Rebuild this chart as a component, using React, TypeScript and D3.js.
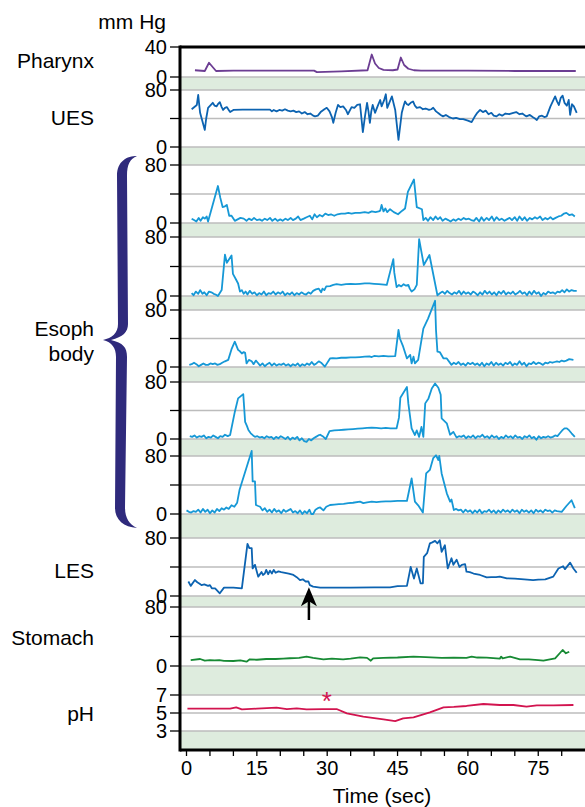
import React from "react";
import * as d3 from "d3";

type Pt = [number, number];

// time (sec), pressure (mm Hg)
const pharynx: Pt[] = [[1.8,9],[3.9,8],[4.8,19],[6.3,8],[10,8.5],[20,8.5],[27.2,8.5],[27.8,6.5],[33,7.5],[38.6,9],[39.5,30],[40.2,18],[41,12],[42,9.5],[44,9],[45,10],[45.7,26],[46.4,16],[47.3,11],[48.5,9],[50,8.5],[60,8.5],[70,8],[83,8]];

const ues: Pt[] = [[1.1,53],[2.2,59],[2.5,73],[2.7,60],[2.9,48],[3.9,24],[4.2,40],[4.6,55],[5.6,62],[6.0,58],[6.4,57],[6.8,61],[7.1,63],[7.5,56],[7.8,52],[8.2,55],[8.6,56],[9.0,52],[9.3,49],[10.0,52],[12,52.5],[14,52.5],[17.8,52.5],[18.2,50],[18.6,52],[19.2,50],[19.8,52],[20.4,51],[21,53],[21.6,51],[22.2,50],[22.8,51],[23.4,49],[24,50],[24.6,47],[25.2,49],[25.8,46],[26.4,47],[27,44],[27.4,43],[28,44],[28.6,49],[29.4,53],[29.9,55],[30.5,50],[31,42],[31.3,34],[31.8,48],[32.3,59],[32.8,56],[33.4,57],[34,52],[34.4,46],[35.2,56],[35.8,55],[36.4,59],[37,60],[37.6,21],[38.1,45],[38.5,62],[38.8,50],[39.1,34],[39.4,50],[39.7,59],[40.2,48],[40.8,58],[41.3,66],[41.6,57],[42.1,65],[42.5,74],[42.8,55],[43.3,63],[43.8,71],[44.2,60],[44.5,52],[45.2,10],[45.9,48],[46.3,58],[46.6,64],[47.0,60],[47.3,59],[47.8,62],[48.3,64],[48.7,58],[49.1,55],[49.8,56],[50.4,53],[51,54],[51.7,52],[52.2,53],[52.6,55],[53.2,50],[53.8,47],[54.2,45],[54.7,43],[55.3,45],[56,42],[56.8,40],[57.5,41],[58.3,39],[59,39],[60,37],[60.8,35],[61.4,42],[62,48],[62.6,52],[63.2,49],[63.8,51],[64.4,46],[65,48],[65.5,44],[66.1,43],[66.7,46],[67.3,44],[68,47],[68.8,46],[69.7,48],[70.3,49],[71,46],[71.6,47],[72.2,44],[72.5,43],[73.2,45],[73.8,42],[74.3,40],[74.7,38],[75.2,43],[75.8,44],[76.3,42],[76.8,43],[77.6,57],[78.6,71],[79,64],[79.4,59],[79.8,69],[80.2,72],[80.6,62],[81.1,58],[81.5,66],[81.8,45],[82.2,60],[82.6,57],[83.2,48]];

const esoph1: Pt[] = [[1.1,6],[1.6,4],[2.1,2],[2.6,7],[3.0,3],[3.5,8],[3.9,6],[4.3,9],[4.6,2],[6.7,51],[7.2,35],[7.7,22],[8.2,23],[8.6,25],[9.1,10],[9.6,10],[10.3,3],[10.9,5],[11.5,7],[12.2,6],[12.8,3],[13.3,6],[13.9,4],[14.4,7],[15,4],[15.6,5],[16.1,3],[16.7,6],[17.2,4],[17.8,7],[18.3,3],[18.9,6],[19.4,3],[20,5],[20.5,3],[21.1,6],[21.6,4],[22.2,7],[22.7,4],[23.3,6],[23.8,9],[24.3,4],[25,6],[25.6,8],[26.3,10],[26.8,5],[27.3,12],[27.8,8],[28.4,11],[29,9],[29.6,13],[30.2,11],[30.8,12],[31.5,10],[32.2,12],[33,13],[33.8,13],[34.5,14],[35.2,13],[36,14],[37,14],[38,15],[38.8,14],[39.5,16],[40.3,15],[41,16],[41.3,17],[41.6,25],[42,16],[42.4,20],[42.8,15],[43.4,19],[44.2,15],[45.1,12],[46,17],[46.6,20],[47.2,43],[48.5,60],[49.1,22],[50.2,19],[50.5,4],[51,7],[51.5,3],[52,8],[52.6,4],[53.1,9],[53.6,5],[54.1,8],[54.6,3],[55.2,6],[55.8,4],[56.3,2],[56.9,5],[57.4,3],[58,6],[58.5,4],[59.1,7],[59.6,5],[60.2,6],[60.7,4],[61.3,3],[61.8,7],[62.4,2],[62.9,8],[63.4,3],[64,7],[64.5,4],[65.1,9],[65.6,3],[66.1,8],[66.7,4],[67.2,6],[67.8,3],[68.3,5],[68.9,7],[69.4,4],[70,8],[70.5,3],[71,9],[71.6,4],[72.1,8],[72.6,3],[73.2,7],[73.7,5],[74.3,8],[74.8,6],[75.4,9],[75.9,4],[76.5,7],[77,5],[77.6,8],[78.1,5],[78.7,7],[79.3,9],[79.9,10],[80.5,13],[81,14],[81.6,11],[82.2,12],[82.8,9]];

const esoph2: Pt[] = [[1.1,4],[1.5,1],[2,6],[2.5,3],[2.9,8],[3.4,3],[3.8,5],[4.3,1],[4.8,6],[5.3,5],[5.8,3],[6.2,2],[6.7,0],[7.5,8],[8.2,56],[8.6,45],[9.6,55],[9.9,30],[10.5,23],[11,17],[11.4,6],[11.8,8],[12.2,3],[12.6,6],[13,2],[13.5,7],[14,3],[14.5,5],[15,1],[15.5,4],[16,2],[16.5,6],[17,1],[17.5,4],[18,3],[18.5,6],[19,2],[19.5,5],[20,3],[20.5,6],[21,1],[21.5,4],[22,2],[22.5,5],[23,1],[23.5,4],[24,2],[24.5,5],[25,3],[25.5,2],[26,5],[26.5,3],[27,7],[27.6,9],[28.2,10],[28.7,5],[29,10],[29.4,8],[29.8,13],[30.6,13.5],[31.3,15],[32,16],[33,15],[34,16],[35,16.5],[36,16],[37,16.5],[38,17],[39,17],[40,16.5],[41,16],[42.7,15],[44.1,50],[44.3,32],[44.5,24],[44.8,12],[45.3,15],[45.8,13],[46.3,16],[46.8,14],[47.3,15],[47.6,10],[48,6],[48.6,9],[49.1,15],[49.6,77],[50.6,42],[51.8,55.6],[53.5,1],[54.1,4],[54.6,6],[55.1,3],[55.6,7],[56.1,4],[56.6,2],[57.1,5],[57.6,3],[58.1,7],[58.6,2],[59.1,6],[59.6,3],[60.1,5],[60.6,2],[61.1,6],[61.6,4],[62.1,1],[62.6,5],[63.1,2],[63.6,7],[64.1,3],[64.6,6],[65.1,2],[65.6,5],[66.1,1],[66.6,6],[67.1,3],[67.6,7],[68.1,2],[68.6,5],[69.1,3],[69.6,6],[70.1,2],[70.6,4],[71.1,7],[71.6,3],[72.1,5],[72.6,1],[73.1,6],[73.6,2],[74.1,7],[74.6,3],[75.1,5],[75.6,0],[76.1,4],[76.6,2],[77.1,6],[77.6,4],[78.1,5],[78.6,3],[79.1,6],[79.6,5],[80.1,8],[80.6,5],[81.1,9],[81.6,6],[82.1,8],[82.6,7],[83.2,7]];

const esoph3: Pt[] = [[0.6,3],[1.1,4],[1.6,6],[2.1,4],[2.6,1],[3.1,3],[3.6,5],[4.1,3],[4.6,3],[5.1,5],[5.6,4],[6.1,5],[6.6,3],[7.1,4],[7.6,6],[8.2,8],[8.9,10],[9.6,25],[10.3,35.5],[11,24],[11.4,22],[11.8,19],[12.2,21],[12.5,20],[12.8,5],[13.3,10],[13.9,8],[14.3,4],[14.8,9],[15.2,6],[15.7,2],[16.2,5],[16.7,1],[17.2,4],[17.7,6],[18.2,2],[18.7,5],[19.2,2],[19.7,4],[20.2,3],[20.7,5],[21.2,2],[21.7,4],[22.2,1],[22.7,4],[23.2,2],[23.7,5],[24.2,1],[24.7,4],[25.2,2],[25.7,5],[26.2,3],[26.7,7],[27.2,3],[27.7,5],[28.2,8],[28.7,6],[29.5,0.5],[30.6,12],[31.2,12.5],[32,12],[33,13],[34,13],[35,13.5],[36,13.5],[37,14],[38,14.5],[39,15],[39.5,14],[40,15.5],[41,15],[42,15.5],[43,15],[44.5,15.4],[45.2,52],[45.5,40],[46.2,28.5],[47,12],[47.7,17],[48,5],[48.4,14.5],[48.7,5],[49.4,10],[50.5,54],[51.5,68],[53,93],[53.2,52],[53.5,21.5],[54,21],[54.8,12],[55.5,12],[56.5,3],[57,6],[57.5,4],[58,7],[58.5,3],[59,5],[59.5,2],[60,6],[60.5,4],[61,6],[61.5,3],[62,5],[62.5,2],[63,6],[63.5,1],[64,5],[64.5,3],[65,7],[65.5,2],[66,6],[66.5,3],[67,5],[67.5,2],[68,6],[68.5,4],[69,7],[69.5,2],[70,5],[70.5,3],[71,8],[71.5,3],[72,6],[72.5,1],[73,5],[73.5,4],[74,7],[74.5,4],[75,6],[75.5,5],[76,3],[76.5,6],[77,5],[77.5,7],[78,6],[78.5,7],[79,8],[79.5,7],[80,9],[80.5,8],[81,9],[81.6,11],[82.5,10]];

const esoph4: Pt[] = [[0.7,4],[1.2,3],[1.7,5],[2.2,2],[2.7,4],[3.2,3],[3.7,5],[4.2,1],[4.7,3],[5.2,2],[5.7,5],[6.2,3],[6.7,1],[7.2,4],[7.7,3],[8.2,6],[8.8,4],[9.3,5.6],[10.3,38],[11,57],[12.1,63],[12.5,24],[12.9,18],[13.2,12.6],[13.7,8],[14.2,5],[14.6,3],[15.1,4],[15.6,2],[16.1,3],[16.6,1],[17.1,4],[17.6,2],[18.1,3],[18.6,0],[19.1,3],[19.6,1],[20.1,4],[20.6,2],[21.1,0],[21.6,3],[22.1,-1],[22.6,2],[23.1,0],[23.6,3],[24.1,-2],[24.6,1],[25.1,-3],[25.6,-4],[26.1,0],[26.6,-2],[27.1,1],[27.6,3],[28.1,5],[28.5,6],[29.2,3],[29.7,0],[30.5,11],[31.5,12],[32.5,12.5],[33.5,13],[34.5,13.5],[35.5,14],[36.5,14.5],[37.5,15],[38.5,15.5],[39.5,16],[40.5,15.5],[41.5,15],[42.5,15.5],[43.5,15],[44.8,15],[45.3,30],[45.6,58],[47,73],[47.3,50],[48,15],[48.7,5.6],[49.1,12],[49.6,3],[50.1,17],[50.5,3],[50.9,50],[51.6,57],[52.3,71],[53,78],[53.7,72],[54.2,62],[54.4,29],[55.5,22],[56.2,6],[56.9,10],[57.6,2],[58.1,4],[58.6,3],[59.1,5],[59.6,1],[60.1,4],[60.6,2],[61.1,5],[61.6,1],[62.1,4],[62.6,3],[63.1,6],[63.6,2],[64.1,4],[64.6,1],[65.1,5],[65.6,2],[66.1,4],[66.6,0],[67.1,3],[67.6,1],[68.1,5],[68.6,2],[69.1,4],[69.6,1],[70.1,5],[70.6,2],[71.1,3],[71.6,0],[72.1,4],[72.6,2],[73.1,5],[73.6,1],[74.1,3],[74.6,-1],[75.1,4],[75.6,1],[76.1,3],[76.6,2],[77.1,4],[77.6,2],[78.1,3],[78.6,5],[79.1,4],[79.6,8],[80.1,12],[80.6,15],[81.1,15],[81.6,12],[82.1,8],[82.8,3]];

const esoph5: Pt[] = [[0,5],[0.5,3],[1,2],[1.5,4],[2,3],[2.5,6],[3,2],[3.5,7],[4,3],[4.5,6],[5,1],[5.5,5],[6,2],[6.5,7],[7,4],[7.5,8],[8,6],[8.5,9],[9,7],[9.6,12],[10.2,10],[10.8,15.6],[11.3,33],[13.9,87],[14.1,45],[14.6,45],[14.8,12.4],[15.3,11],[15.7,10],[16.2,5],[16.7,8],[17.2,3],[17.7,6],[18.2,2],[18.7,7],[19.2,3],[19.7,5],[20.2,1],[20.7,6],[21.2,3],[21.7,5],[22.2,7],[22.7,2],[23.2,4],[23.7,1],[24.2,5],[24.7,0],[25.2,4],[25.7,1],[26.2,6],[26.6,0],[27,0],[27.5,6],[28,8],[28.5,9],[29.2,5],[29.8,10],[30.6,12.4],[31.5,13],[32.5,13.5],[33.5,14],[34.5,15],[35.5,15.5],[37,17],[37.7,15],[38.5,16],[39.5,17],[40.5,16.5],[41.5,17],[42.5,17.5],[43.5,17.5],[45,18],[47,18],[48,49],[48.7,17],[49.4,12],[50.4,2],[51.1,56],[51.9,61],[52.6,77],[53.2,81],[53.7,74.5],[53.9,80],[54.4,56],[55.5,28.5],[56.2,17],[56.5,20],[57,5.5],[57.5,7],[58,5],[58.5,6],[59,2],[59.5,6],[60,3],[60.5,5],[61,1],[61.5,5],[62,2],[62.5,6],[63,1],[63.5,4],[64,3],[64.5,6],[65,2],[65.5,5],[66,1],[66.5,5],[67,2],[67.5,6],[68,3],[68.5,5],[69,2],[69.5,6],[70,3],[70.5,5],[71,1],[71.5,6],[72,3],[72.5,5],[73,2],[73.5,5],[74,1],[74.5,6],[75,3],[75.5,5],[76,2],[76.5,6],[77,4],[77.5,5],[78,2],[78.5,5],[79,4],[80,3],[81,11],[82.1,19],[82.8,8]];

const les: Pt[] = [[0.4,20],[0.9,14],[1.8,22],[2.3,19],[2.8,17],[3.2,15],[3.8,16],[4.2,15],[4.6,14],[5.0,15],[5.4,10.6],[6.1,10.6],[7.1,3.7],[8,11.5],[10,11.5],[11.8,10.6],[13,72],[13.4,66],[13.9,66],[14.1,38],[14.6,43],[15,33.5],[15.3,26.7],[16,33],[16.3,29],[16.7,31],[17,36],[17.4,30],[17.8,35],[18.2,31],[18.6,36],[19,32],[19.6,34],[20.2,33],[21,32],[21.8,31],[22.8,29],[23.5,26],[24.2,22],[24.8,23],[25.4,20],[26,20],[26.3,15],[27,13],[28.5,11.5],[30,11.5],[35,11.5],[40,12],[43.4,12],[45,13.5],[47,14],[47.8,40],[48.5,24],[49.1,38],[49.9,17.5],[50.4,17.5],[50.6,54],[51.3,59],[51.9,72.7],[52.4,74],[53,76],[53.5,72.7],[54,77],[54.4,61],[55.1,70],[55.7,38],[56.5,52],[56.9,43],[57.6,50],[58.2,40],[58.7,43],[59.4,44],[59.7,33.5],[60.4,33],[61.2,31],[62.6,29],[64,25.7],[65,26],[66,26],[66.8,26.7],[68.3,24.4],[70,24],[72,23],[73.9,22],[75,22.5],[76.5,23],[78.2,26.7],[79.3,38],[80.3,41],[80.7,37],[81.8,46],[82.5,38],[83.2,32]];

const stomach: Pt[] = [[0.9,8],[2.9,9.5],[3.9,7.2],[5,8],[6,7.5],[7,8],[8,7],[10,6.8],[11.5,7.5],[12.8,5.9],[13.5,9],[15,8.5],[17,9.5],[19,9.5],[20.6,10],[22,10.5],[24,11],[25.6,12.7],[27,11],[29.2,9],[31,10],[33.4,9],[35,10],[37,11.7],[38.5,11],[39.3,7.2],[39.8,10.4],[42,11],[45,11.5],[48.4,12.7],[51,12],[54.4,11],[57,11.2],[59.7,11],[60.8,12.7],[62,11.5],[64,11.3],[66.8,10],[67.1,12.7],[67.4,10.4],[69,12.7],[71.1,9],[73,9],[75,8],[76.1,7.2],[78.6,10.4],[80.2,21.7],[80.9,17.2],[81.6,19.4]];

const ph: Pt[] = [[0.2,5.48],[5,5.48],[9.3,5.48],[10.6,5.63],[11.8,5.41],[15,5.48],[19.2,5.59],[21.4,5.44],[23.5,5.52],[25.6,5.41],[29,5.44],[32,5.44],[34.2,4.96],[37.7,4.59],[42,4.3],[44.5,4.1],[46.2,4.41],[48.4,4.52],[51.9,5.07],[54.8,5.63],[57,5.67],[59.7,5.78],[63.3,6.0],[66.8,5.89],[69.7,5.89],[72.5,5.7],[74.7,5.85],[78.2,5.85],[82.5,5.89]];

const xMinorTicks = [0,5,10,15,20,25,30,35,40,45,50,55,60,65,70,75,80];
const xTickLabels = [0,15,30,45,60,75];
const arrowAt: Pt = [26.1, 12]; // LES relaxation
const starAt: Pt = [29.9, 6.9]; // pH drop

const FONT = "'Liberation Sans', Arial, Helvetica, sans-serif";
const GRID = "#bcbcbc";
const BAND = "#deecde";
const AXIS_X = 180;
const TOP = 47;
const BOTTOM = 750;
const RIGHT = 585;

const panels = [
  { name: "Pharynx", top: 47, bottom: 77, domain: [0, 40], ticks: [0, 40], labels: [0, 40], data: pharynx, color: "#6c3d93" },
  { name: "UES", top: 90, bottom: 147, domain: [0, 80], ticks: [0, 40, 80], labels: [0, 80], data: ues, color: "#0c63b1" },
  { name: "e1", top: 165, bottom: 223, domain: [0, 80], ticks: [0, 40, 80], labels: [0, 80], data: esoph1, color: "#1698d6" },
  { name: "e2", top: 237, bottom: 296, domain: [0, 80], ticks: [0, 40, 80], labels: [0, 80], data: esoph2, color: "#1698d6" },
  { name: "e3", top: 310, bottom: 367, domain: [0, 80], ticks: [0, 40, 80], labels: [0, 80], data: esoph3, color: "#1698d6" },
  { name: "e4", top: 382, bottom: 439, domain: [0, 80], ticks: [0, 40, 80], labels: [0, 80], data: esoph4, color: "#1698d6" },
  { name: "e5", top: 456, bottom: 514, domain: [0, 80], ticks: [0, 40, 80], labels: [0, 80], data: esoph5, color: "#1698d6" },
  { name: "LES", top: 538, bottom: 596, domain: [0, 80], ticks: [0, 40, 80], labels: [0, 80], data: les, color: "#0c63b1" },
  { name: "Stomach", top: 607, bottom: 666, domain: [0, 80], ticks: [0, 40, 80], labels: [0, 80], data: stomach, color: "#178a34" },
  { name: "pH", top: 695, bottom: 731, domain: [3, 7], ticks: [3, 5, 7], labels: [3, 5, 7], data: ph, color: "#d2144f" },
];

const sideLabels = [
  { text: "Pharynx", y: 60 },
  { text: "UES", y: 117 },
  { text: "Esoph", y: 328 },
  { text: "body", y: 353 },
  { text: "LES", y: 570 },
  { text: "Stomach", y: 637 },
  { text: "pH", y: 713 },
];

const x = d3.scaleLinear().domain([0, 85]).range([186.5, 585.15]);

const yScale = (p: typeof panels[number]) =>
  d3.scaleLinear().domain(p.domain).range([p.bottom, p.top]);

const Brace = () => (
  <path
    d="M137,156 C127,156 117,161 117,176 L118,324 C118,333 112,338 103,340 C112,342 116,348 116,357 L115,508 C115,520 124,527 137,528 C129,524 125,518 125,507 L127,357 C127,347 123,343 111,340 C123,337 128,332 128,324 L127,176 C127,164 130,159 137,156 Z"
    fill="#2f2a7c"
  />
);

const App = () => {
  const bands: [number, number][] = panels.map((p, i) => [
    p.bottom,
    i < panels.length - 1 ? panels[i + 1].top : BOTTOM,
  ]);
  const yLes = yScale(panels[7]);
  const ax = x(arrowAt[0]);
  const ay = yLes(arrowAt[1]);
  const yPh = yScale(panels[9]);

  return (
    <svg width={585} height={807} style={{ position: "absolute", left: 0, top: 0 }} fontFamily={FONT}>
      {bands.map(([a, b], i) => (
        <rect key={i} x={AXIS_X} y={a} width={RIGHT - AXIS_X} height={b - a} fill={BAND} />
      ))}
      {panels.map((p) => {
        const y = yScale(p);
        return (
          <g key={p.name}>
            {p.ticks.map((t) =>
              p.name === "Pharynx" && t === 40 ? null : (
                <line key={t} x1={AXIS_X} x2={RIGHT} y1={y(t)} y2={y(t)} stroke={GRID} strokeWidth={1.5} />
              )
            )}
          </g>
        );
      })}
      {panels.map((p) => {
        const y = yScale(p);
        const line = d3
          .line<Pt>()
          .x((d) => x(d[0]))
          .y((d) => y(d[1]));
        return (
          <path key={p.name} d={line(p.data) || ""} fill="none" stroke={p.color} strokeWidth={1.8} strokeLinejoin="round" />
        );
      })}
      {panels.map((p) => {
        const y = yScale(p);
        return (
          <g key={p.name + "ax"}>
            {p.ticks.map((t) => (
              <line key={t} x1={AXIS_X - 10} x2={AXIS_X} y1={y(t)} y2={y(t)} stroke="#000" strokeWidth={1.3} />
            ))}
            {p.labels.map((t) => (
              <text key={t} x={AXIS_X - 13} y={y(t)} textAnchor="end" dominantBaseline="central" fontSize={20}>
                {t}
              </text>
            ))}
          </g>
        );
      })}
      <line x1={AXIS_X} x2={RIGHT} y1={TOP} y2={TOP} stroke="#000" strokeWidth={3} />
      <line x1={AXIS_X} x2={RIGHT} y1={BOTTOM} y2={BOTTOM} stroke="#000" strokeWidth={3} />
      <line x1={AXIS_X} x2={AXIS_X} y1={TOP - 1.5} y2={BOTTOM + 1.5} stroke="#000" strokeWidth={3} />
      {xMinorTicks.map((t) => (
        <line key={t} x1={x(t)} x2={x(t)} y1={BOTTOM} y2={BOTTOM + 6} stroke="#000" strokeWidth={1.3} />
      ))}
      {xTickLabels.map((t) => (
        <text key={t} x={x(t)} y={768} textAnchor="middle" dominantBaseline="central" fontSize={20}>
          {t}
        </text>
      ))}
      <text x={382} y={795} textAnchor="middle" dominantBaseline="central" fontSize={21}>
        Time (sec)
      </text>
      <text x={166} y={21} textAnchor="end" dominantBaseline="central" fontSize={21}>
        mm Hg
      </text>
      {sideLabels.map((l) => (
        <text key={l.text} x={94} y={l.y} textAnchor="end" dominantBaseline="central" fontSize={21}>
          {l.text}
        </text>
      ))}
      <Brace />
      <line x1={ax} x2={ax} y1={ay + 12} y2={620} stroke="#000" strokeWidth={2.5} />
      <path d={`M${ax},${ay} L${ax + 8},${ay + 19} L${ax},${ay + 14} L${ax - 8},${ay + 19} Z`} fill="#000" />
      <text x={x(starAt[0])} y={yPh(starAt[1]) + 14} textAnchor="middle" fill="#d2144f" fontSize={26}>
        *
      </text>
    </svg>
  );
};

export default App;
